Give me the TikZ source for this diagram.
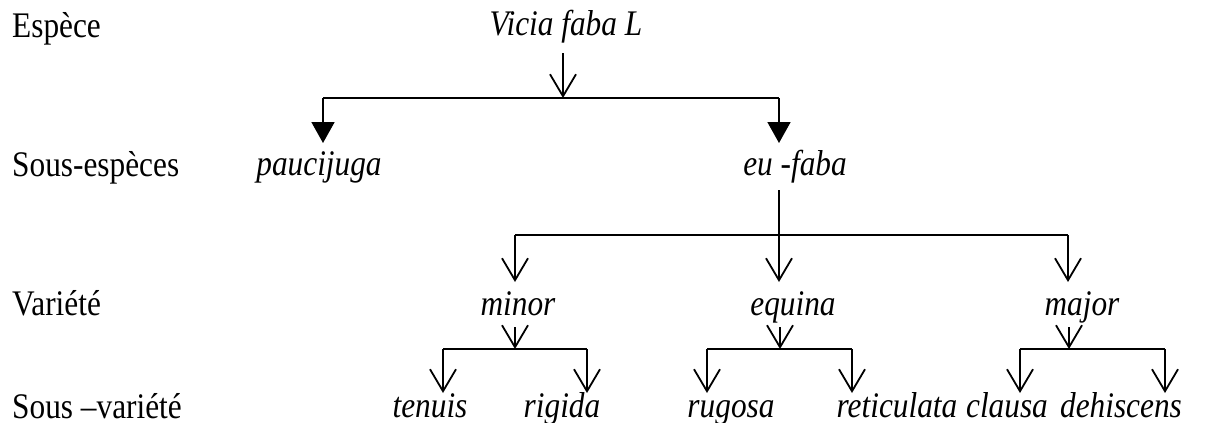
\documentclass[tikz,border=0pt]{standalone}
\usepackage{fontspec}
\setmainfont{Liberation Serif}[FakeStretch=0.87]
\usetikzlibrary{arrows.meta}

\tikzset{
    rank/.style={font=\fontsize{36}{40}\selectfont, anchor=base west, inner sep=0pt},
    taxon/.style={font=\fontsize{36}{40}\selectfont\itshape, anchor=base, inner sep=0pt},
    link/.style={line width=1.8pt},
    openhead/.style={link, -{Straight Barb[length=22pt, width=26pt, line width=1.8pt]}},
    fillhead/.style={link, -{Triangle[length=21pt, width=23pt]}}
}

\begin{document}
\begin{tikzpicture}[x=1pt, y=-1pt]
    \useasboundingbox (0,0) rectangle (1208,423);

    % ranks on the left
    \node [rank] (espece) at (12,37) {Espèce};
    \node [rank] (sousesp) at (12,176) {Sous-espèces};
    \node [rank] (variete) at (12,315) {Variété};
    \node [rank] (sousvar) at (12,418) {Sous –variété};

    % taxa
    \node [taxon] (vicia) at (566,35) {Vicia faba L};
    \node [taxon] (pauci) at (319,175) {paucijuga};
    \node [taxon] (eufaba) at (795,175) {eu -faba};
    \node [taxon] (minor) at (518,315) {minor};
    \node [taxon] (equina) at (793,315) {equina};
    \node [taxon] (major) at (1082,315) {major};
    \node [taxon] (tenuis) at (430,417) {tenuis};
    \node [taxon] (rigida) at (562,417) {rigida};
    \node [taxon] (rugosa) at (731,417) {rugosa};
    \node [taxon] (retic) at (897,417) {reticulata};
    \node [taxon] (clausa) at (1007,417) {clausa};
    \node [taxon] (dehis) at (1121,417) {dehiscens};

    % species -> sub-species
    \coordinate (viciaT) at (563,53);
    \coordinate (viciaF) at (563,98);
    \coordinate (viciaL) at (323,98);
    \coordinate (viciaR) at (779,98);
    \coordinate (pauciT) at (323,143);
    \coordinate (eufabaT) at (779,143);

    \draw [openhead] (viciaT) -- (viciaF);
    \draw [link] (viciaL) -- (viciaR);
    \draw [fillhead] (viciaL) -- (pauciT);
    \draw [fillhead] (viciaR) -- (eufabaT);

    % sub-species -> varieties
    \coordinate (eufabaB) at (779,190);
    \coordinate (eufabaL) at (515,235);
    \coordinate (eufabaR) at (1068,235);
    \coordinate (minorT) at (515,282);
    \coordinate (equinaT) at (779,282);
    \coordinate (majorT) at (1068,282);

    \draw [openhead] (eufabaB) -- (equinaT);
    \draw [link] (eufabaL) -- (eufabaR);
    \draw [openhead] (eufabaL) -- (minorT);
    \draw [openhead] (eufabaR) -- (majorT);

    % varieties -> sub-varieties
    \coordinate (minorB) at (515,327);
    \coordinate (minorF) at (515,349);
    \coordinate (minorL) at (443,349);
    \coordinate (minorR) at (587,349);
    \coordinate (tenuisT) at (443,393);
    \coordinate (rigidaT) at (587,393);

    \draw [openhead] (minorB) -- (minorF);
    \draw [link] (minorL) -- (minorR);
    \draw [openhead] (minorL) -- (tenuisT);
    \draw [openhead] (minorR) -- (rigidaT);

    \coordinate (equinaB) at (780,327);
    \coordinate (equinaF) at (780,349);
    \coordinate (equinaL) at (707,349);
    \coordinate (equinaR) at (852,349);
    \coordinate (rugosaT) at (707,393);
    \coordinate (reticT) at (852,393);

    \draw [openhead] (equinaB) -- (equinaF);
    \draw [link] (equinaL) -- (equinaR);
    \draw [openhead] (equinaL) -- (rugosaT);
    \draw [openhead] (equinaR) -- (reticT);

    \coordinate (majorB) at (1069,327);
    \coordinate (majorF) at (1069,349);
    \coordinate (majorL) at (1020,349);
    \coordinate (majorR) at (1165,349);
    \coordinate (clausaT) at (1020,393);
    \coordinate (dehisT) at (1165,393);

    \draw [openhead] (majorB) -- (majorF);
    \draw [link] (majorL) -- (majorR);
    \draw [openhead] (majorL) -- (clausaT);
    \draw [openhead] (majorR) -- (dehisT);
\end{tikzpicture}
\end{document}
